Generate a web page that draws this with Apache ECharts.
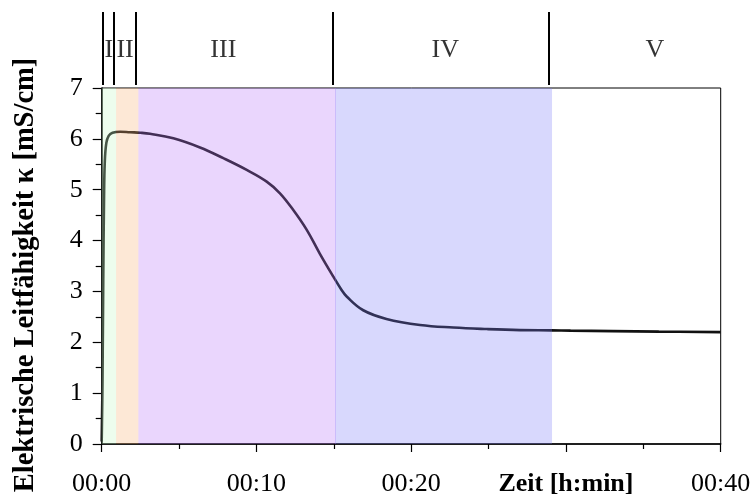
<!DOCTYPE html>
<html>
<head>
<meta charset="utf-8">
<script src="https://cdn.jsdelivr.net/npm/echarts@6/dist/echarts.min.js"></script>
<style>
  html, body { margin: 0; padding: 0; background: #fff; }
  #chart { width: 755px; height: 500px; }
</style>
</head>
<body>
<div id="chart"></div>
<script>
// Conductivity over time (minutes) during the run
const timeMin = [0, 0.05, 0.1, 0.15, 0.2, 0.3, 0.45, 0.7, 1.2, 1.83, 2.5, 3.12, 4.63, 6.35, 7.86, 9.37,
  10.66, 11.52, 12.38, 13.25, 14.1, 14.97, 15.5, 15.83, 16.9, 18.4, 20.57, 22.72, 24.9, 27.03,
  29.08, 30.3, 33, 36, 40];
const kappa = [0.05, 1.2, 3.2, 4.8, 5.55, 5.92, 6.06, 6.12, 6.14, 6.13, 6.12, 6.10, 6.01, 5.83, 5.62, 5.39,
  5.16, 4.93, 4.60, 4.21, 3.74, 3.29, 3.03, 2.90, 2.63, 2.46, 2.34, 2.29, 2.26, 2.24,
  2.235, 2.23, 2.22, 2.21, 2.20];

// Phases: shaded spans, divider marks and roman labels (times in minutes)
const phaseNames = ['I', 'II', 'III', 'IV', 'V'];
const phaseLabelAt = [0.46, 1.51, 7.86, 22.2, 35.75];
const phaseDividers = [0.1, 0.81, 2.2, 14.95, 28.9];
const bandStart = [0, 0.93, 2.37, 15.08];
const bandEnd = [0.93, 2.37, 15.14, 29.1];

// x tick values and y range
const xTicks = [0, 10, 20, 30, 40];
const xTitleAt = 30;
const yMax = 7;

const bandColors = [
  'rgba(196,250,196,0.3)',
  'rgba(248,178,118,0.3)',
  'rgba(186,118,250,0.3)',
  'rgba(126,126,250,0.3)'
];

const serif = '"Liberation Serif", "Times New Roman", serif';

const chart = echarts.init(document.getElementById('chart'), null, { renderer: 'canvas' });

const option = {
  animation: false,
  backgroundColor: '#fff',
  grid: [
    { left: 101.7, right: 34.3, top: 88, bottom: 56, show: true, borderColor: '#000', borderWidth: 1, backgroundColor: 'transparent' },
    { left: 101.7, right: 34.3, top: 12, height: 73, show: false }
  ],
  xAxis: [
    {
      type: 'value', gridIndex: 0, min: xTicks[0], max: xTicks[xTicks.length - 1], interval: 10,
      axisLine: { show: true, lineStyle: { color: '#000', width: 1.5 } },
      axisTick: { show: true, length: 8, lineStyle: { color: '#000', width: 1.2 } },
      minorTick: { show: true, splitNumber: 2, length: 5, lineStyle: { color: '#000', width: 1.2 } },
      splitLine: { show: false },
      axisLabel: {
        color: '#000', fontFamily: serif, fontSize: 26, margin: 27,
        formatter: function (v) {
          if (v === xTitleAt) return '{b|Zeit [h:min]}';
          return '00:' + String(v).padStart(2, '0');
        },
        rich: { b: { fontFamily: serif, fontSize: 26, fontWeight: 'bold', color: '#000' } }
      }
    },
    { type: 'value', gridIndex: 1, min: 0, max: 40, show: false }
  ],
  yAxis: [
    {
      type: 'value', gridIndex: 0, min: 0, max: yMax, interval: 1,
      name: 'Elektrische Leitfähigkeit κ [mS/cm]',
      nameLocation: 'middle', nameGap: 62, nameRotate: 90,
      nameTextStyle: { fontFamily: serif, fontSize: 28.5, fontWeight: 'bold', color: '#000', padding: [0, 18, 0, 0] },
      axisLine: { show: true, lineStyle: { color: '#000', width: 1.5 } },
      axisTick: { show: true, length: 9, lineStyle: { color: '#000', width: 1.2 } },
      minorTick: { show: true, splitNumber: 2, length: 6, lineStyle: { color: '#000', width: 1.2 } },
      splitLine: { show: false },
      axisLabel: { color: '#000', fontFamily: serif, fontSize: 26, margin: 19 }
    },
    { type: 'value', gridIndex: 1, min: 0, max: 1, show: false }
  ],
  series: [
    {
      name: 'kappa', type: 'line', xAxisIndex: 0, yAxisIndex: 0, z: 2,
      data: timeMin.map((t, i) => [t, kappa[i]]),
      smooth: 0.4, showSymbol: false, symbol: 'none',
      lineStyle: { color: '#111', width: 2.6 }
    },
    {
      name: 'phases', type: 'line', xAxisIndex: 0, yAxisIndex: 0, z: 5, data: [],
      markArea: {
        silent: true,
        z: 5,
        data: bandStart.map((s, i) => [
          { xAxis: s, yAxis: 0, itemStyle: { color: bandColors[i] } },
          { xAxis: bandEnd[i], yAxis: yMax }
        ])
      }
    },
    {
      name: 'dividers', type: 'line', xAxisIndex: 1, yAxisIndex: 1, data: [],
      markLine: {
        silent: true, symbol: ['none', 'none'], label: { show: false },
        lineStyle: { color: '#000', width: 2, type: 'solid' },
        data: phaseDividers.map(d => ({ xAxis: d }))
      }
    },
    {
      name: 'phaseLabels', type: 'scatter', xAxisIndex: 1, yAxisIndex: 1, symbolSize: 0,
      data: phaseNames.map((n, i) => [phaseLabelAt[i], 0.48, n]),
      label: {
        show: true, position: 'inside', color: '#000', fontFamily: serif, fontSize: 26,
        formatter: p => p.value[2]
      }
    }
  ]
};

chart.setOption(option);
</script>
</body>
</html>
